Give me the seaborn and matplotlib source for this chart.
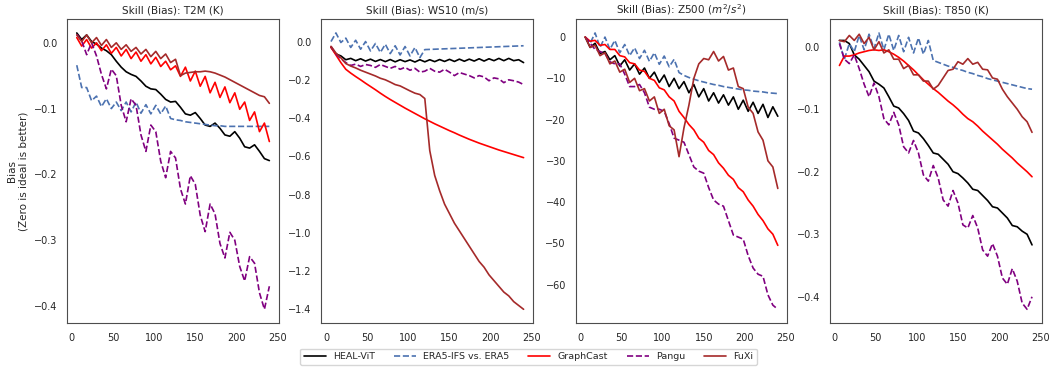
import numpy as np
import pandas as pd
import seaborn as sns
import matplotlib
matplotlib.use("Agg")
import matplotlib.pyplot as plt

# lead times (hours)
lead = list(range(6, 241, 6))

models = ["HEAL-ViT", "ERA5-IFS vs. ERA5", "GraphCast", "Pangu", "FuXi"]
colors = ["black", "#4c72b0", "red", "purple", "brown"]
styles = ["-", "--", "-", "--", "-"]

# ---------------- T2M ----------------
t2m_healvit = [0.015, 0.005, 0.012, 0.002, -0.002, -0.008, -0.012, -0.018, -0.028, -0.037,
               -0.044, -0.048, -0.051, -0.058, -0.066, -0.070, -0.071, -0.078, -0.086, -0.090,
               -0.089, -0.098, -0.108, -0.110, -0.106, -0.115, -0.125, -0.127, -0.122, -0.130,
               -0.140, -0.142, -0.135, -0.145, -0.158, -0.160, -0.155, -0.165, -0.176, -0.179]
t2m_era5 = [-0.034, -0.068, -0.068, -0.088, -0.081, -0.097, -0.085, -0.100, -0.090, -0.103,
            -0.090, -0.105, -0.090, -0.107, -0.094, -0.108, -0.095, -0.108, -0.096, -0.115,
            -0.117, -0.118, -0.120, -0.121, -0.122, -0.123, -0.124, -0.125, -0.126, -0.126,
            -0.127, -0.127, -0.127, -0.127, -0.127, -0.127, -0.127, -0.127, -0.127, -0.127]
t2m_graphcast = [0.008, -0.005, 0.005, -0.008, 0.000, -0.012, -0.003, -0.016, -0.007, -0.020,
                 -0.010, -0.024, -0.014, -0.028, -0.018, -0.032, -0.022, -0.036, -0.028, -0.041,
                 -0.035, -0.051, -0.037, -0.058, -0.043, -0.066, -0.051, -0.076, -0.060, -0.083,
                 -0.067, -0.091, -0.076, -0.101, -0.090, -0.118, -0.105, -0.135, -0.122, -0.150]
t2m_pangu = [0.013, 0.003, -0.018, 0.000, -0.020, -0.048, -0.070, -0.040, -0.050, -0.095,
             -0.120, -0.085, -0.095, -0.140, -0.165, -0.125, -0.135, -0.180, -0.205, -0.165,
             -0.175, -0.222, -0.245, -0.202, -0.215, -0.262, -0.287, -0.245, -0.260, -0.305,
             -0.327, -0.288, -0.300, -0.340, -0.362, -0.325, -0.335, -0.380, -0.405, -0.370]
t2m_fuxi = [0.012, 0.002, 0.012, 0.000, 0.008, -0.004, 0.005, -0.007, 0.000, -0.010,
            -0.003, -0.013, -0.007, -0.017, -0.010, -0.021, -0.013, -0.024, -0.017, -0.030,
            -0.025, -0.050, -0.046, -0.045, -0.044, -0.044, -0.043, -0.044, -0.046, -0.049,
            -0.052, -0.056, -0.060, -0.064, -0.068, -0.072, -0.076, -0.080, -0.082, -0.092]

# ---------------- WS10 ----------------
ws_healvit = [-0.030, -0.065, -0.075, -0.095, -0.088, -0.100, -0.090, -0.102, -0.092, -0.104,
              -0.094, -0.105, -0.094, -0.106, -0.095, -0.105, -0.096, -0.107, -0.095, -0.106,
              -0.095, -0.105, -0.094, -0.104, -0.093, -0.104, -0.092, -0.103, -0.092, -0.102,
              -0.090, -0.102, -0.090, -0.100, -0.088, -0.100, -0.088, -0.100, -0.095, -0.110]
ws_era5 = [0.000, 0.045, -0.005, 0.018, -0.031, 0.007, -0.040, 0.000, -0.049, -0.010,
           -0.057, -0.014, -0.063, -0.022, -0.070, -0.026, -0.075, -0.031, -0.084, -0.042,
           -0.041, -0.040, -0.039, -0.038, -0.037, -0.036, -0.035, -0.034, -0.033, -0.032,
           -0.031, -0.030, -0.029, -0.028, -0.027, -0.026, -0.025, -0.024, -0.023, -0.022]
ws_graphcast = [-0.030, -0.070, -0.110, -0.145, -0.165, -0.183, -0.200, -0.218, -0.235, -0.252,
                -0.270, -0.287, -0.303, -0.318, -0.333, -0.348, -0.362, -0.376, -0.390, -0.404,
                -0.417, -0.430, -0.442, -0.454, -0.466, -0.477, -0.489, -0.500, -0.511, -0.521,
                -0.531, -0.540, -0.549, -0.558, -0.567, -0.575, -0.583, -0.591, -0.599, -0.607]
ws_pangu = [-0.025, -0.065, -0.090, -0.110, -0.125, -0.118, -0.130, -0.120, -0.125, -0.135,
            -0.120, -0.130, -0.140, -0.130, -0.145, -0.135, -0.150, -0.140, -0.160, -0.155,
            -0.140, -0.155, -0.160, -0.145, -0.160, -0.178, -0.162, -0.170, -0.178, -0.190,
            -0.178, -0.185, -0.205, -0.190, -0.195, -0.215, -0.200, -0.205, -0.212, -0.225]
ws_fuxi = [-0.025, -0.060, -0.085, -0.115, -0.128, -0.138, -0.150, -0.160, -0.170, -0.180,
           -0.192, -0.200, -0.212, -0.225, -0.232, -0.245, -0.258, -0.270, -0.277, -0.298,
           -0.570, -0.700, -0.780, -0.850, -0.900, -0.950, -0.990, -1.030, -1.070, -1.110,
           -1.150, -1.180, -1.220, -1.250, -1.280, -1.310, -1.330, -1.360, -1.380, -1.400]

# ---------------- Z500 ----------------
z_healvit = [0.0, -2.5, -1.5, -4.0, -3.5, -5.5, -4.5, -7.0, -5.5, -8.0,
             -6.5, -9.0, -7.5, -10.0, -8.5, -11.0, -9.2, -12.0, -10.0, -12.5,
             -10.8, -13.5, -11.5, -14.5, -12.5, -15.5, -13.5, -16.0, -14.0, -16.5,
             -14.5, -17.5, -15.3, -18.0, -15.8, -18.5, -16.3, -19.5, -16.9, -19.2]
z_era5 = [0.0, -1.5, 1.0, -2.5, 0.0, -3.0, -0.8, -3.8, -1.8, -4.5,
          -2.6, -5.2, -3.2, -5.9, -3.8, -6.6, -4.6, -7.2, -5.4, -8.6,
          -9.3, -9.8, -10.2, -10.6, -10.9, -11.2, -11.5, -11.7, -12.0, -12.2,
          -12.4, -12.6, -12.8, -12.9, -13.1, -13.2, -13.3, -13.5, -13.6, -13.7]
z_graphcast = [0.0, -1.0, -0.8, -2.0, -1.8, -3.0, -3.0, -4.5, -4.8, -6.2,
               -6.5, -8.0, -8.3, -10.0, -10.5, -12.3, -12.8, -14.5, -15.5, -18.0,
               -19.5, -21.2, -22.5, -24.5, -25.5, -27.5, -28.5, -30.5, -31.8, -33.5,
               -34.5, -36.5, -37.5, -39.5, -41.0, -43.0, -44.5, -46.5, -47.8, -50.5]
z_pangu = [0.0, -1.5, -3.0, -3.5, -4.0, -6.0, -6.5, -6.5, -9.0, -12.0,
           -12.0, -11.5, -13.5, -17.0, -17.5, -17.5, -18.0, -21.0, -24.5, -25.0,
           -25.5, -28.5, -31.5, -32.5, -33.0, -36.5, -39.5, -40.5, -41.0, -44.5,
           -48.0, -48.5, -49.0, -53.0, -56.0, -57.5, -58.0, -62.5, -65.0, -66.0]
z_fuxi = [0.0, -2.5, -2.0, -4.5, -3.8, -6.5, -5.8, -8.5, -7.8, -11.0,
          -10.0, -13.0, -12.5, -15.5, -14.5, -18.5, -17.5, -21.5, -22.5, -29.0,
          -22.0, -16.5, -10.0, -6.5, -5.2, -5.5, -3.5, -5.8, -4.7, -8.0,
          -7.5, -12.0, -12.5, -17.0, -18.5, -23.0, -25.0, -30.0, -31.5, -36.7]

# ---------------- T850 ----------------
t850_healvit = [0.010, 0.010, 0.005, -0.013, -0.020, -0.030, -0.040, -0.055, -0.060, -0.066,
                -0.080, -0.095, -0.098, -0.107, -0.118, -0.135, -0.138, -0.147, -0.158, -0.170,
                -0.172, -0.180, -0.188, -0.200, -0.203, -0.210, -0.218, -0.228, -0.230, -0.238,
                -0.246, -0.256, -0.258, -0.266, -0.274, -0.286, -0.288, -0.295, -0.300, -0.317]
t850_era5 = [0.007, -0.020, 0.005, -0.008, 0.018, -0.005, 0.020, -0.003, 0.022, -0.005,
             0.020, -0.006, 0.018, -0.008, 0.015, -0.010, 0.014, -0.012, 0.010, -0.022,
             -0.025, -0.028, -0.031, -0.033, -0.036, -0.038, -0.041, -0.043, -0.046, -0.048,
             -0.051, -0.053, -0.055, -0.057, -0.059, -0.061, -0.063, -0.065, -0.067, -0.068]
t850_graphcast = [-0.030, -0.015, -0.015, -0.013, -0.010, -0.008, -0.006, -0.005, -0.006, -0.005,
                  -0.008, -0.012, -0.017, -0.023, -0.030, -0.037, -0.045, -0.053, -0.060, -0.067,
                  -0.073, -0.080, -0.087, -0.093, -0.100, -0.108, -0.115, -0.120, -0.127, -0.135,
                  -0.142, -0.149, -0.156, -0.164, -0.171, -0.178, -0.186, -0.193, -0.200, -0.208]
t850_pangu = [0.005, -0.020, -0.027, -0.013, -0.035, -0.060, -0.080, -0.058, -0.080, -0.115,
              -0.125, -0.105, -0.125, -0.160, -0.170, -0.150, -0.170, -0.205, -0.215, -0.190,
              -0.210, -0.245, -0.255, -0.230, -0.250, -0.285, -0.290, -0.270, -0.290, -0.325,
              -0.335, -0.315, -0.335, -0.370, -0.380, -0.355, -0.375, -0.410, -0.420, -0.400]
t850_fuxi = [0.010, 0.008, 0.018, 0.010, 0.020, 0.005, 0.015, -0.005, 0.008, -0.010,
             -0.005, -0.020, -0.020, -0.035, -0.030, -0.045, -0.045, -0.055, -0.055, -0.068,
             -0.062, -0.050, -0.038, -0.036, -0.024, -0.028, -0.019, -0.028, -0.025, -0.036,
             -0.037, -0.050, -0.052, -0.068, -0.080, -0.090, -0.100, -0.112, -0.120, -0.137]

panels = [
    ("Skill (Bias): T2M (K)", [t2m_healvit, t2m_era5, t2m_graphcast, t2m_pangu, t2m_fuxi]),
    ("Skill (Bias): WS10 (m/s)", [ws_healvit, ws_era5, ws_graphcast, ws_pangu, ws_fuxi]),
    ("Skill (Bias): Z500 ($m^2/s^2$)", [z_healvit, z_era5, z_graphcast, z_pangu, z_fuxi]),
    ("Skill (Bias): T850 (K)", [t850_healvit, t850_era5, t850_graphcast, t850_pangu, t850_fuxi]),
]

sns.set_style("white")
plt.rcParams["font.family"] = ["DejaVu Sans"]
plt.rcParams["xtick.labelsize"] = 7
plt.rcParams["ytick.labelsize"] = 7

fig, axes = plt.subplots(1, 4, figsize=(10.49, 3.68), dpi=100)
fig.subplots_adjust(left=0.064, right=0.993, bottom=0.122, top=0.948, wspace=0.2)

for ax, (title, series) in zip(axes, panels):
    for name, vals, c, ls in zip(models, series, colors, styles):
        df = pd.DataFrame({"lead": lead, "bias": vals})
        sns.lineplot(data=df, x="lead", y="bias", ax=ax, color=c, linestyle=ls,
                     linewidth=1.2, label=name, legend=False)
    ax.set_title(title, fontsize=7.5, color=".15", pad=4)
    ax.set_xlabel("")
    ax.set_ylabel("")
    ax.set_xticks([0, 50, 100, 150, 200, 250])
    for s in ax.spines.values():
        s.set_color(".3")

axes[0].set_ylabel("Bias\n(Zero is ideal is better)", fontsize=7.5, color=".15")

handles, labels = axes[0].get_legend_handles_labels()
fig.legend(handles, labels, loc="lower center", bbox_to_anchor=(0.504, -0.005), ncol=5,
           fontsize=6.8, handlelength=2.3, columnspacing=2.0, frameon=True)

plt.savefig("out.png", dpi=100)
